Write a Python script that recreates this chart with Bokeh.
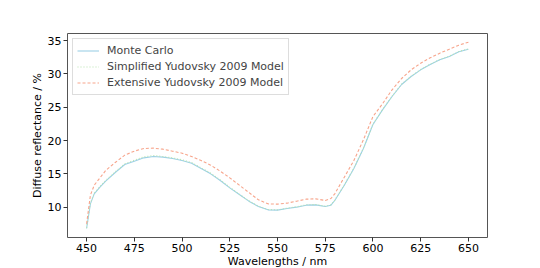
from bokeh.plotting import figure
from bokeh.embed import file_html
from bokeh.resources import INLINE
from bokeh.models import Range1d, FixedTicker, Legend, LegendItem

wavelengths = [450, 452, 454, 457, 460, 465, 470, 475, 480, 485, 490, 495, 500, 505, 510,
               515, 520, 525, 530, 535, 540, 545, 550, 555, 560, 565, 570, 575, 578, 580,
               585, 590, 595, 600, 605, 610, 615, 620, 625, 630, 635, 640, 645, 650]

monte_carlo = [6.8, 10.5, 12.0, 13.0, 13.9, 15.2, 16.4, 16.9, 17.4, 17.6, 17.5, 17.3, 17.0, 16.6, 15.8,
               15.0, 14.0, 12.9, 11.9, 10.9, 10.1, 9.6, 9.55, 9.8, 10.0, 10.3, 10.35, 10.1, 10.3, 11.0,
               13.3, 15.8, 18.8, 22.4, 24.6, 26.6, 28.4, 29.6, 30.6, 31.4, 32.1, 32.6, 33.3, 33.7]

simplified = [6.9, 10.6, 12.1, 13.1, 14.0, 15.3, 16.5, 17.05, 17.55, 17.75, 17.6, 17.4, 17.1, 16.7, 15.9,
              15.1, 14.1, 13.0, 11.95, 10.95, 10.15, 9.65, 9.6, 9.85, 10.05, 10.35, 10.4, 10.15, 10.35, 11.05,
              13.35, 15.85, 18.85, 22.45, 24.65, 26.65, 28.45, 29.65, 30.65, 31.45, 32.15, 32.65, 33.35, 33.75]

extensive = [7.5, 11.8, 13.3, 14.4, 15.5, 16.7, 17.8, 18.4, 18.8, 18.85, 18.7, 18.4, 18.1, 17.6, 17.0,
             16.3, 15.4, 14.4, 13.3, 12.2, 11.1, 10.5, 10.45, 10.6, 10.9, 11.2, 11.25, 11.0, 11.3, 12.0,
             14.5, 17.0, 20.1, 23.6, 25.5, 27.6, 29.3, 30.6, 31.6, 32.4, 33.1, 33.7, 34.3, 34.75]

x_ticks = [450, 475, 500, 525, 550, 575, 600, 625, 650]
y_ticks = [10, 15, 20, 25, 30, 35]

FONT = "DejaVu Sans"

p = figure(frame_width=420, frame_height=204, output_backend="svg", toolbar_location=None,
           x_range=Range1d(440, 660), y_range=Range1d(5.45, 36.05),
           min_border_left=67, min_border_right=40, min_border_top=33, min_border_bottom=28)

p.xgrid.visible = False
p.ygrid.visible = False
p.outline_line_color = "#555555"
p.outline_line_width = 1
p.background_fill_color = "white"

r1 = p.line(wavelengths, monte_carlo, line_color="#9dd0e6", line_width=1.1)
r2 = p.line(wavelengths, simplified, line_color="#b8e4b0", line_width=1.1, line_dash="1 2")
r3 = p.line(wavelengths, extensive, line_color="#f7a58c", line_width=1.1, line_dash="3 2")

for ax in (p.xaxis[0], p.yaxis[0]):
    ax.axis_line_color = None
    ax.major_tick_line_color = "#333333"
    ax.major_tick_out = 4
    ax.major_tick_in = 0
    ax.minor_tick_line_color = None
    ax.major_label_text_font = FONT
    ax.major_label_text_font_size = "11px"
    ax.major_label_text_color = "black"
    ax.axis_label_text_font = FONT
    ax.axis_label_text_font_size = "11px"
    ax.axis_label_text_font_style = "normal"
    ax.axis_label_text_color = "black"
    ax.major_label_standoff = 2
    ax.axis_label_standoff = 1

p.xaxis.axis_label_standoff = 0
p.xaxis.ticker = FixedTicker(ticks=x_ticks)
p.yaxis.ticker = FixedTicker(ticks=y_ticks)
p.xaxis.axis_label = "Wavelengths / nm"
p.yaxis.axis_label = "Diffuse reflectance / %"

legend = Legend(items=[
    LegendItem(label="Monte Carlo", renderers=[r1]),
    LegendItem(label="Simplified Yudovsky 2009 Model", renderers=[r2]),
    LegendItem(label="Extensive Yudovsky 2009 Model", renderers=[r3]),
], location="top_left")
legend.label_text_font = FONT
legend.label_text_font_size = "11px"
legend.border_line_color = "#dddddd"
legend.border_line_alpha = 1
legend.background_fill_alpha = 0.8
legend.glyph_width = 22
legend.glyph_height = 15
legend.label_height = 15
legend.spacing = 1
legend.padding = 4
legend.margin = 5
legend.label_standoff = 8
p.add_layout(legend)

open("out.html", "w").write(file_html(p, INLINE))
